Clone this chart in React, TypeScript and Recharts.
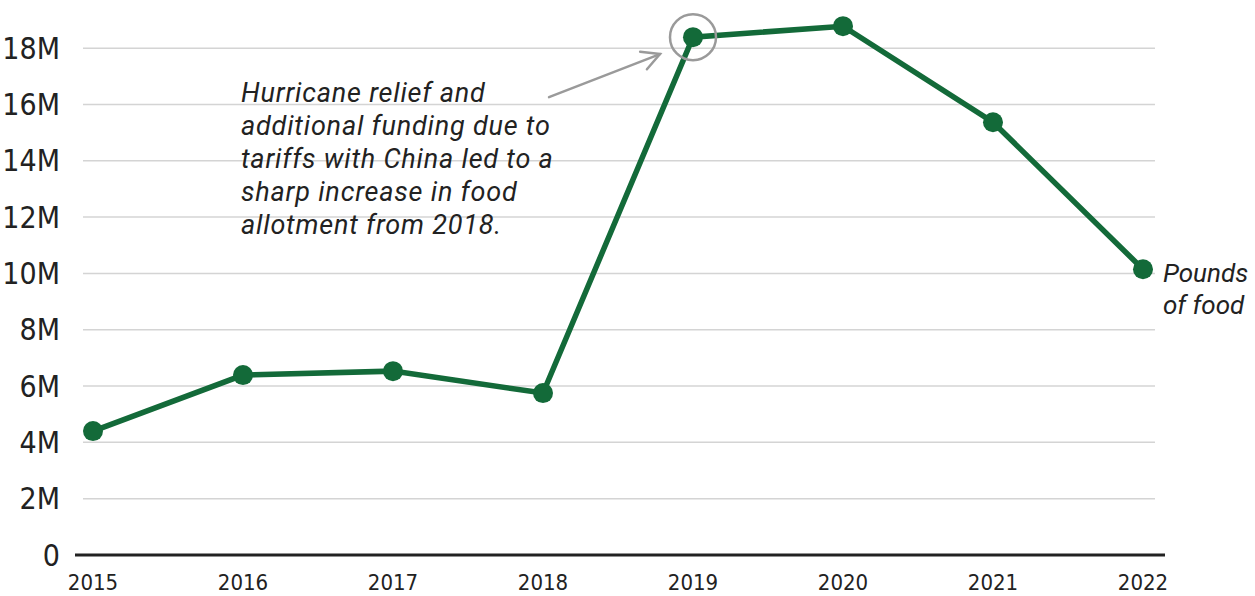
import { LineChart, Line, XAxis, YAxis, ReferenceLine, ReferenceDot } from 'recharts';

const years = [2015, 2016, 2017, 2018, 2019, 2020, 2021, 2022];
const pounds = [4.4, 6.39, 6.53, 5.75, 18.39, 18.78, 15.37, 10.15]; // millions
const yTicks = [0, 2, 4, 6, 8, 10, 12, 14, 16, 18];
const noteLines = [
  'Hurricane relief and',
  'additional funding due to',
  'tariffs with China led to a',
  'sharp increase in food',
  'allotment from 2018.',
];
const seriesLabel = ['Pounds', 'of food'];

const data = years.map((year, i) => ({ year, value: pounds[i] }));

const GREEN = '#136a39';
const GREY = '#9a9a9a';
const TEXT = '#222';
const AXIS_FONT = "'Liberation Sans Narrow', 'DejaVu Sans Condensed', Roboto, sans-serif";
const NOTE_FONT = "Roboto, 'Noto Sans', sans-serif";

const Arrow = (p: any) => {
  const { x1, y1, x2, y2 } = p;
  const a = Math.atan2(y2 - y1, x2 - x1);
  const len = 20;
  const spread = (28 * Math.PI) / 180;
  const w1 = { x: x2 - len * Math.cos(a - spread), y: y2 - len * Math.sin(a - spread) };
  const w2 = { x: x2 - len * Math.cos(a + spread), y: y2 - len * Math.sin(a + spread) };
  return (
    <g stroke={GREY} strokeWidth={2.5} fill="none" strokeLinecap="round">
      <line x1={x1} y1={y1} x2={x2} y2={y2} />
      <polyline points={`${w1.x},${w1.y} ${x2},${y2} ${w2.x},${w2.y}`} />
    </g>
  );
};

const Note = (p: any) => (
  <text x={p.cx} y={p.cy} fill={TEXT} fontFamily={NOTE_FONT} fontStyle="italic" fontSize={27} letterSpacing={0.8}>
    {noteLines.map((t, i) => (
      <tspan key={i} x={p.cx} dy={i === 0 ? 0 : 33}>
        {t}
      </tspan>
    ))}
  </text>
);

const EndLabel = (p: any) => (
  <text x={p.cx + 20} y={p.cy + 13} fill={TEXT} fontFamily={NOTE_FONT} fontStyle="italic" fontSize={26}>
    {seriesLabel.map((t, i) => (
      <tspan key={i} x={p.cx + 20} dy={i === 0 ? 0 : 32}>
        {t}
      </tspan>
    ))}
  </text>
);

export default function App() {
  return (
    <div style={{ position: 'absolute', left: 0, top: 0, background: '#fff' }}>
      <LineChart width={1255} height={596} data={data} margin={{ top: 20, right: 90, bottom: 0, left: 0 }}>
        <XAxis
          dataKey="year"
          type="number"
          domain={[2014.88, 2022.1467]}
          ticks={years}
          tickSize={0}
          tickMargin={19}
          height={41}
          axisLine={{ stroke: TEXT, strokeWidth: 3 }}
          tickLine={false}
          tick={{ fill: TEXT, fontSize: 22, fontFamily: AXIS_FONT }}
        />
        <YAxis
          domain={[0, 19]}
          ticks={yTicks}
          width={75}
          tickSize={0}
          tickMargin={15}
          axisLine={false}
          tickLine={false}
          tickFormatter={(v: number) => (v === 0 ? '0' : `${v}M`)}
          tick={{ fill: TEXT, fontSize: 30, fontFamily: AXIS_FONT }}
        />
        {yTicks.filter((t) => t > 0).map((t) => (
          <ReferenceLine
            key={t}
            segment={[{ x: 2014.9333, y: t }, { x: 2022.08, y: t }]}
            stroke="#d4d4d4"
            strokeWidth={1.5}
          />
        ))}
        <ReferenceLine segment={[{ x: 2018.04, y: 16.26 }, { x: 2018.78, y: 17.79 }]} shape={Arrow} />
        <ReferenceDot x={2015.9867} y={16.08} r={1} shape={Note} />
        <Line
          dataKey="value"
          stroke={GREEN}
          strokeWidth={5.5}
          dot={{ r: 10, fill: GREEN, stroke: GREEN, strokeWidth: 0 }}
          activeDot={false}
          isAnimationActive={false}
        />
        <ReferenceDot x={2019} y={18.39} r={23} fill="none" stroke={GREY} strokeWidth={2.5} />
        <ReferenceDot x={2022} y={10.15} r={1} shape={EndLabel} />
      </LineChart>
    </div>
  );
}
